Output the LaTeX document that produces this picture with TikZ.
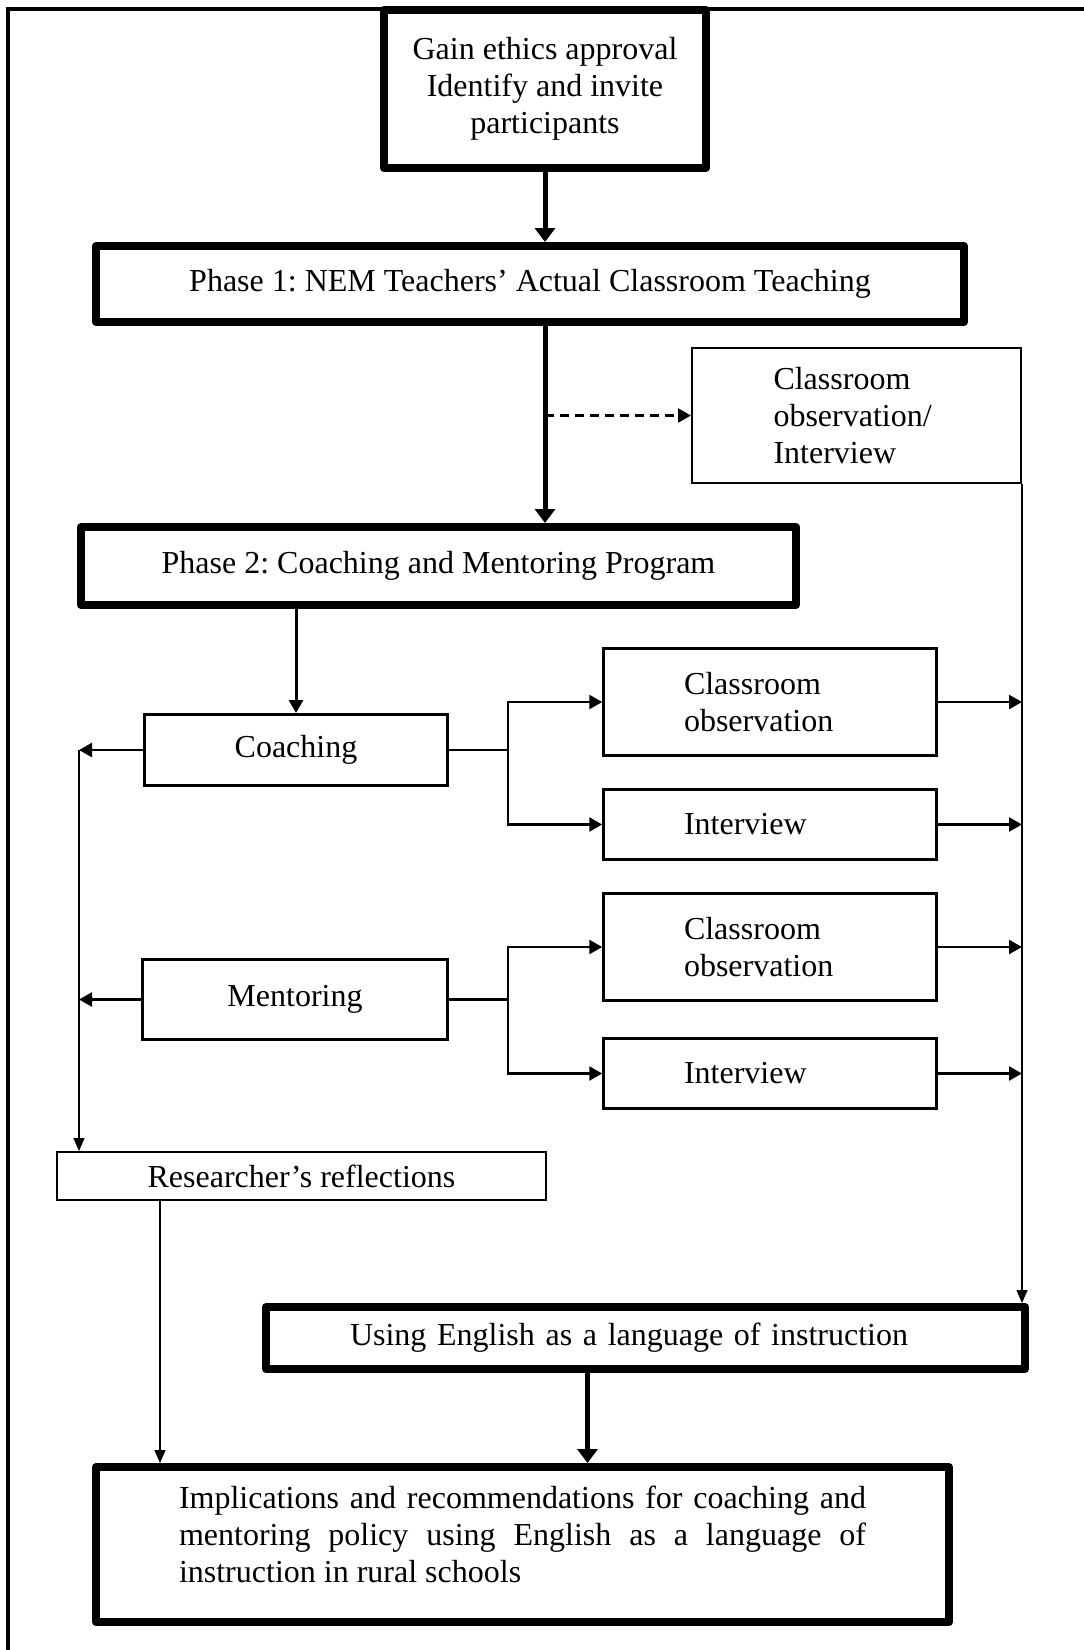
\documentclass[tikz,border=0pt]{standalone}
\usepackage{fontspec}
\setmainfont{Liberation Serif}
\usetikzlibrary{positioning, arrows.meta}
\frenchspacing

\tikzset{
    every node/.style={font=\fontsize{32}{37}\selectfont, inner sep=0pt},
    heavybox/.style={draw, line width=8pt, line join=round},
    midbox/.style={draw, line width=3pt},
    obsbox/.style={draw, line width=2.5pt},
    lightbox/.style={draw, line width=2pt},
    bigarrow/.style={line width=5pt, -{Triangle[length=14pt, width=20pt]}},
    medarrow/.style={line width=2.5pt, -{Triangle[length=13pt, width=14pt]}},
    thinarrow/.style={line width=1.5pt, -{Triangle[length=13pt, width=11pt]}},
}

\begin{document}
\begin{tikzpicture}[x=1pt, y=-1pt]
            \useasboundingbox (0,0) rectangle (1084,1650);
            \draw [line width=4pt] (8,9) rectangle (1140,1700);

            \node [heavybox, minimum width=322pt, minimum height=158pt, align=center] (gain) at (545,89)
                {Gain ethics approval\\Identify and invite\\participants};
            \node [heavybox, minimum width=868pt, minimum height=76pt] (phase1) at (530,284)
                {Phase 1: NEM Teachers’ Actual Classroom Teaching};
            \node [lightbox, minimum width=329pt, minimum height=135pt, text width=166pt, align=left] (obsint) at (856.5,415.5)
                {Classroom\\observation/\\Interview};
            \node [heavybox, minimum width=715pt, minimum height=78pt] (phase2) at (438.5,566)
                {Phase 2: Coaching and Mentoring Program};

            \node [midbox, minimum width=303pt, minimum height=71pt] (coach) at (296,750) {Coaching};
            \node [midbox, minimum width=305pt, minimum height=80pt] (mentor) at (295,999.5) {Mentoring};

            \node [obsbox, minimum width=333pt, minimum height=107pt, text width=172pt, align=left] (coachobs) at (770,702)
                {Classroom\\observation};
            \node [obsbox, minimum width=333pt, minimum height=70pt, text width=172pt, align=left] (coachint) at (770,824.5)
                {Interview};
            \node [obsbox, minimum width=333pt, minimum height=107pt, text width=172pt, align=left] (mentorobs) at (770,947)
                {Classroom\\observation};
            \node [obsbox, minimum width=333pt, minimum height=70pt, text width=172pt, align=left] (mentorint) at (770,1073.5)
                {Interview};

            \node [lightbox, minimum width=489pt, minimum height=48pt] (reflect) at (301.5,1176) {Researcher’s reflections};
            \node [heavybox, minimum width=759pt, minimum height=62pt, text width=591pt, align=left] (english) at (645.5,1338)
                {Using English as a language of instruction};
            \node [heavybox, minimum width=853pt, minimum height=155pt, text width=687pt, align=justify] (implic) at (522.5,1544.5)
                {Implications and recommendations for coaching and\linebreak
                 mentoring policy using English as a language of\linebreak
                 instruction in rural schools\par\kern20pt};

            % main line
            \draw [bigarrow] (gain.south) -- (gain.south |- phase1.north);
            \draw [bigarrow] (phase1.south -| gain.south) -- (phase2.north -| gain.south);
            \draw [line width=2.5pt, dash pattern=on 9pt off 6pt, -{Triangle[length=13pt, width=14pt]}]
                (obsint.west -| gain.south) -- (obsint.west);
            \draw [line width=3pt, -{Triangle[length=13pt, width=14pt]}] (phase2.south -| coach.north) -- (coach.north);

            % forks to observation and interview
            \draw [line width=2.5pt] (coach.east) -- ++(59,0) coordinate (cfork);
            \draw [medarrow] (cfork) |- (coachobs.west);
            \draw [medarrow] (cfork) |- (coachint.west);
            \draw [line width=2.5pt] (mentor.east) -- ++(59,0) coordinate (mfork);
            \draw [medarrow] (mfork) |- (mentorobs.west);
            \draw [medarrow] (mfork) |- (mentorint.west);

            \foreach \b in {coachobs, coachint, mentorobs, mentorint}
                \draw [medarrow] (\b.east) -- (\b.east -| obsint.east);
            \draw [thinarrow] (obsint.south east) -- (obsint.south east |- english.north);

            % researcher's side
            \coordinate (rin) at ([xshift=23pt]reflect.north west);
            \draw [medarrow] (coach.west) -- (coach.west -| rin);
            \draw [medarrow] (mentor.west) -- (mentor.west -| rin);
            \draw [thinarrow] (coach.west -| rin) -- (rin);

            \coordinate (rout) at ([xshift=104pt]reflect.south west);
            \coordinate (eout) at ([xshift=-58pt]english.south);
            \draw [thinarrow] (rout) -- (rout |- implic.north);
            \draw [bigarrow] (eout) -- (eout |- implic.north);

        \end{tikzpicture}
\end{document}
